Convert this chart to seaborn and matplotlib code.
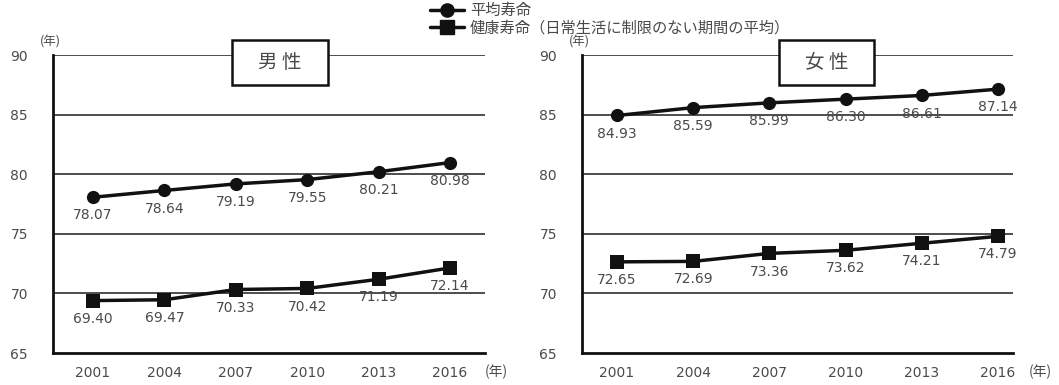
import matplotlib
matplotlib.use("Agg")
import matplotlib.pyplot as plt
from matplotlib.lines import Line2D
from matplotlib.patches import Rectangle
import seaborn as sns
import pandas as pd

years = ["2001", "2004", "2007", "2010", "2013", "2016"]
male_life = [78.07, 78.64, 79.19, 79.55, 80.21, 80.98]
male_healthy = [69.40, 69.47, 70.33, 70.42, 71.19, 72.14]
female_life = [84.93, 85.59, 85.99, 86.30, 86.61, 87.14]
female_healthy = [72.65, 72.69, 73.36, 73.62, 74.21, 74.79]
yticks = [65, 70, 75, 80, 85, 90]
series_names = ["平均寿命", "健康寿命（日常生活に制限のない期間の平均）"]
panel_titles = ["男 性", "女 性"]

sns.set_theme(style="white")
plt.rcParams["font.family"] = ["DejaVu Sans", "Noto Sans CJK JP"]

TEXT = "#4a4a4a"
GRID = "#4d4d4d"
JP = ["Noto Sans CJK JP", "DejaVu Sans"]

fig = plt.figure(figsize=(10.59, 3.85), dpi=100)
ax_l = fig.add_axes([0.050, 0.083, 0.408, 0.774])
ax_r = fig.add_axes([0.5496, 0.083, 0.407, 0.774])

# (axes, life, healthy, title, x-limits, title-box centre x, unit label x)
panels = [
    (ax_l, male_life, male_healthy, panel_titles[0], (-0.56, 5.49), 0.525, 5.48),
    (ax_r, female_life, female_healthy, panel_titles[1], (-0.46, 5.2), 0.567, 5.40),
]

for ax, life, healthy, title, xlim, box_cx, unit_x in panels:
    df = pd.DataFrame({
        "x": list(range(len(years))) * 2,
        "value": life + healthy,
        "series": [series_names[0]] * len(years) + [series_names[1]] * len(years),
    })
    sns.lineplot(data=df, x="x", y="value", hue="series", style="series",
                 markers={series_names[0]: "o", series_names[1]: "s"},
                 dashes=False, palette=["#111111", "#111111"],
                 linewidth=2.5, markersize=9.5, markeredgewidth=0,
                 legend=False, ax=ax, zorder=3)

    ax.set_xlim(*xlim)
    ax.set_ylim(65, 90)
    ax.set_yticks(yticks)
    ax.set_xticks(range(len(years)))
    ax.set_xticklabels(years)
    ax.set_xlabel("")
    ax.set_ylabel("")
    for v in yticks[1:]:
        ax.axhline(v, color=GRID, linewidth=1.4, zorder=1)
    for side in ["top", "right"]:
        ax.spines[side].set_visible(False)
    for side in ["left", "bottom"]:
        ax.spines[side].set_color("#111111")
        ax.spines[side].set_linewidth(2.0)
    ax.tick_params(axis="both", length=0, labelsize=10, labelcolor=TEXT)
    ax.tick_params(axis="y", pad=18)
    ax.tick_params(axis="x", pad=9)

    for i, v in enumerate(life + healthy):
        ax.annotate(f"{v:.2f}", (i % len(years), v), xytext=(0, -8),
                    textcoords="offset points", ha="center", va="top",
                    fontsize=10, color=TEXT)

    # panel title box sitting on the top gridline
    bw, bh = 0.222, 0.151
    ax.add_patch(Rectangle((box_cx - bw / 2, 0.975 - bh / 2), bw, bh,
                           transform=ax.transAxes, facecolor="white",
                           edgecolor="#111111", linewidth=1.8, zorder=5,
                           clip_on=False))
    ax.text(box_cx, 0.975, title, transform=ax.transAxes, ha="center",
            va="center", fontsize=14, color=TEXT, family=JP, zorder=6)

    ax.text(-0.03, 1.044, "(年)", transform=ax.transAxes, ha="left", va="center",
            fontsize=9, color=TEXT, family=JP)
    ax.annotate("(年)", (unit_x, 0), xycoords=("data", "axes fraction"),
                xytext=(0, -19), textcoords="offset pixels", ha="left",
                va="center", fontsize=10, color=TEXT, family=JP)

handles = [
    Line2D([], [], color="#111111", lw=2.5, marker="o", markersize=9.5),
    Line2D([], [], color="#111111", lw=2.5, marker="s", markersize=9.5),
]
leg = fig.legend(handles, series_names, loc="upper left",
                 bbox_to_anchor=(0.396, 1.022), frameon=False,
                 prop={"family": JP, "size": 11}, handlelength=2.2,
                 handletextpad=0.4, labelspacing=0.0, borderpad=0.2)
for t in leg.get_texts():
    t.set_color(TEXT)

fig.savefig("out.png", dpi=100, facecolor="white")
